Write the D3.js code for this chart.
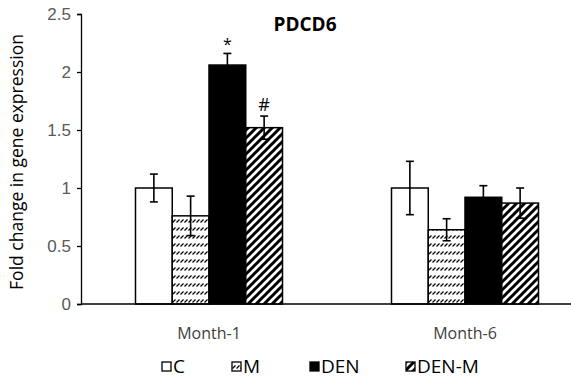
<!DOCTYPE html>
<html>
<head>
<meta charset="utf-8">
<script src="https://cdn.jsdelivr.net/npm/d3@7"></script>
<style>
  body { margin: 0; background: #fff; }
  svg { display: block; font-family: "Open Sans", "Noto Sans", sans-serif; }
</style>
</head>
<body>
<svg width="571" height="381"></svg>
<script>
// data
const months = ["Month-1", "Month-6"];
const groups = ["C", "M", "DEN", "DEN-M"];
const valC = [1.0, 1.0];
const valM = [0.76, 0.64];
const valDEN = [2.06, 0.92];
const valDENM = [1.52, 0.87];
const errC = [0.12, 0.23];
const errM = [0.17, 0.095];
const errDEN = [0.1, 0.1];
const errDENM = [0.1, 0.13];
const marks = [["DEN", "Month-1", "*"], ["DEN-M", "Month-1", "#"]];
const yTicks = [0, 0.5, 1, 1.5, 2, 2.5];

const svg = d3.select("svg");
const attr_area = { left: 81, top: 14, bottom: 304, right: 593 };

// patterns for the hatched bars
const defs = svg.append("defs");
const pM = defs.append("pattern")
  .attr("id", "patM").attr("patternUnits", "userSpaceOnUse")
  .attr("width", 4).attr("height", 8);
pM.append("rect").attr("width", 4).attr("height", 8).attr("fill", "#fff");
pM.append("line").attr("x1", 0.5).attr("y1", 6.5).attr("x2", 3.5).attr("y2", 3.5)
  .attr("stroke", "#000").attr("stroke-width", 1.2);

const pDM = defs.append("pattern")
  .attr("id", "patDM").attr("patternUnits", "userSpaceOnUse")
  .attr("width", 8).attr("height", 8);
pDM.append("rect").attr("width", 8).attr("height", 8).attr("fill", "#fff");
pDM.append("path").attr("d", "M-2,2 L2,-2 M0,8 L8,0 M6,10 L10,6")
  .attr("stroke", "#000").attr("stroke-width", 3);

const fills = { "C": "#fff", "M": "url(#patM)", "DEN": "#000", "DEN-M": "url(#patDM)" };
const values = { "C": valC, "M": valM, "DEN": valDEN, "DEN-M": valDENM };
const errors = { "C": errC, "M": errM, "DEN": errDEN, "DEN-M": errDENM };

const data = [];
months.forEach((m, i) => groups.forEach(g => {
  data.push({ month: m, group: g, value: values[g][i], err: errors[g][i] });
}));

const scX = d3.scaleBand().domain(months)
  .range([attr_area.left, attr_area.right]).paddingInner(0).paddingOuter(0);
const groupW = 147;
const scG = d3.scaleBand().domain(groups).range([0, groupW]);
const offset = (scX.bandwidth() - groupW) / 2;
const scY = d3.scaleLinear().domain([0, 2.5]).range([attr_area.bottom, attr_area.top]);

// y axis
const axisY = d3.axisLeft(scY).tickValues(yTicks).tickSize(4).tickFormat(d => d);
const gy = svg.append("g").attr("transform", `translate(${attr_area.left},0)`).call(axisY);
gy.select(".domain").attr("stroke", "#000").attr("stroke-width", 1.3);
gy.selectAll(".tick line").attr("stroke", "#000").attr("stroke-width", 1.3);
gy.selectAll(".tick text").attr("fill", "#595959").style("font-size", "17px").attr("x", -10);

// bars
const barX = d => scX(d.month) + offset + scG(d.group);
svg.selectAll(".bar").data(data).enter().append("rect")
  .attr("class", "bar")
  .attr("x", barX)
  .attr("y", d => scY(d.value))
  .attr("width", scG.bandwidth())
  .attr("height", d => scY(0) - scY(d.value))
  .attr("fill", d => fills[d.group])
  .attr("stroke", "#000").attr("stroke-width", 1.5);

// error bars
const cap = 4;
const eb = svg.selectAll(".err").data(data).enter().append("g").attr("class", "err")
  .attr("stroke", "#000").attr("stroke-width", 1.6);
eb.append("line")
  .attr("x1", d => barX(d) + scG.bandwidth() / 2).attr("x2", d => barX(d) + scG.bandwidth() / 2)
  .attr("y1", d => scY(d.value + d.err)).attr("y2", d => scY(d.value - d.err));
eb.append("line")
  .attr("x1", d => barX(d) + scG.bandwidth() / 2 - cap).attr("x2", d => barX(d) + scG.bandwidth() / 2 + cap)
  .attr("y1", d => scY(d.value + d.err)).attr("y2", d => scY(d.value + d.err));
eb.append("line")
  .attr("x1", d => barX(d) + scG.bandwidth() / 2 - cap).attr("x2", d => barX(d) + scG.bandwidth() / 2 + cap)
  .attr("y1", d => scY(d.value - d.err)).attr("y2", d => scY(d.value - d.err));

// x axis line
svg.append("line")
  .attr("x1", attr_area.left).attr("x2", 571)
  .attr("y1", scY(0)).attr("y2", scY(0))
  .attr("stroke", "#000").attr("stroke-width", 1.5);

// month labels
svg.selectAll(".mlab").data(months).enter().append("text")
  .attr("x", d => scX(d) + scX.bandwidth() / 2)
  .attr("y", 339)
  .attr("text-anchor", "middle")
  .attr("fill", "#404040")
  .style("font-size", "16px")
  .text(d => d);

// significance marks
marks.forEach(([g, m, s]) => {
  const d = data.find(e => e.group === g && e.month === m);
  svg.append("text")
    .attr("x", barX(d) + scG.bandwidth() / 2)
    .attr("y", scY(d.value + d.err) - (s === "*" ? 3 : 5))
    .attr("text-anchor", "middle")
    .style("font-size", s === "*" ? "16px" : "18px")
    .text(s);
});

// title
svg.append("text").attr("x", 305).attr("y", 31)
  .attr("text-anchor", "middle")
  .style("font-size", "19px").style("font-weight", "bold")
  .text("PDCD6");

// y axis title
svg.append("text")
  .attr("transform", `translate(23,${(attr_area.top + attr_area.bottom) / 2 + 3}) rotate(-90)`)
  .attr("text-anchor", "middle")
  .style("font-size", "17.5px")
  .attr("fill", "#000")
  .text("Fold change in gene expression");

// legend
const legX = [162, 232, 310, 406];
const leg = svg.selectAll(".leg").data(groups).enter().append("g")
  .attr("transform", (d, i) => `translate(${legX[i]},362)`);
leg.append("rect").attr("width", 9).attr("height", 9)
  .attr("fill", d => fills[d]).attr("stroke", "#000").attr("stroke-width", 1.3);
leg.append("text").attr("x", 11).attr("y", 11)
  .style("font-size", "19px").attr("fill", "#000")
  .text(d => d);
</script>
</body>
</html>
